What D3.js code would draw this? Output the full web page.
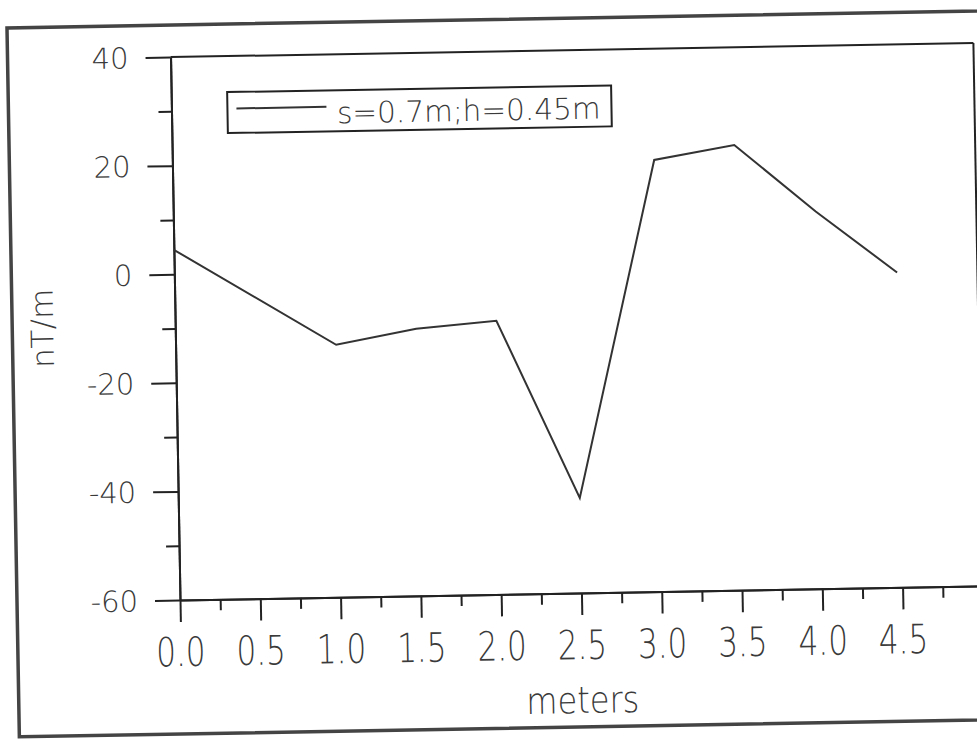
<!DOCTYPE html>
<html>
<head>
<meta charset="utf-8">
<script src="https://cdn.jsdelivr.net/npm/d3@7"></script>
<style>
  html, body { margin: 0; padding: 0; background: #fff; }
  svg { display: block; }
  text { font-family: "DejaVu Sans", sans-serif; font-weight: 200; fill: #3a3a3a; }
</style>
</head>
<body>
<svg id="chart" width="977" height="741"></svg>
<script>
// Profile of the magnetic gradient along the survey line
const distance = [0.0, 1.0, 1.5, 2.0, 2.5, 3.0, 3.5, 4.0, 4.5];
const gradient = [4.5, -13.5, -10.8, -9.6, -42.5, 19.5, 22.0, 9.5, -2.0];
const seriesName = "s=0.7m;h=0.45m";

const xMajorTicks = [0.0, 0.5, 1.0, 1.5, 2.0, 2.5, 3.0, 3.5, 4.0, 4.5];
const xMinorTicks = [0.25, 0.75, 1.25, 1.75, 2.25, 2.75, 3.25, 3.75, 4.25, 4.75];
const yMajorTicks = [-60, -40, -20, 0, 20, 40];
const yMinorTicks = [-50, -30, -10, 10, 30];

const xTitle = "meters";
const yTitle = "nT/m";

const W = 803, H = 543;
const svg = d3.select("#chart");

// the whole sheet sits slightly tilted on the page
const sheet = svg.append("g")
  .attr("transform", "translate(180,600) rotate(-1) translate(0," + (-H) + ")");

// outer frame
sheet.append("rect")
  .attr("x", -163).attr("y", H - 575)
  .attr("width", 1300).attr("height", 709)
  .attr("fill", "none").attr("stroke", "#444").attr("stroke-width", 3.5);

const x = d3.scaleLinear().domain([0, 5]).range([0, W]);
const y = d3.scaleLinear().domain([-60, 40]).range([H, 0]);

function styleAxis(g) {
  g.selectAll("path, line").attr("stroke", "#222").attr("stroke-width", 2);
  g.selectAll("text").remove();
}

// minor ticks
sheet.append("g").attr("transform", `translate(0,${H})`)
  .call(d3.axisBottom(x).tickValues(xMinorTicks).tickSize(11).tickSizeOuter(0))
  .call(styleAxis);
sheet.append("g")
  .call(d3.axisLeft(y).tickValues(yMinorTicks).tickSize(13).tickSizeOuter(0))
  .call(styleAxis);

// major ticks and axis lines
sheet.append("g").attr("transform", `translate(0,${H})`)
  .call(d3.axisBottom(x).tickValues(xMajorTicks).tickSize(22).tickSizeOuter(0))
  .call(styleAxis);
sheet.append("g")
  .call(d3.axisLeft(y).tickValues(yMajorTicks).tickSize(25).tickSizeOuter(0))
  .call(styleAxis);

// top and right sides of the plot box
sheet.append("line").attr("x1", 0).attr("x2", W).attr("y1", 0).attr("y2", 0)
  .attr("stroke", "#222").attr("stroke-width", 2);
sheet.append("line").attr("x1", W).attr("x2", W).attr("y1", 0).attr("y2", H)
  .attr("stroke", "#222").attr("stroke-width", 2);

// x tick labels (tall plotter lettering)
const fmtX = d3.format(".1f");
sheet.append("g").selectAll("text").data(xMajorTicks).join("text")
  .attr("transform", d => `translate(${x(d)},${H + 66}) scale(1,1.3)`)
  .attr("text-anchor", "middle")
  .attr("font-size", 31)
  .text(d => fmtX(d));

// y tick labels
sheet.append("g").selectAll("text").data(yMajorTicks).join("text")
  .attr("x", -42)
  .attr("y", d => y(d) + 10.6)
  .attr("text-anchor", "end")
  .attr("font-size", 29)
  .text(d => String(d));

// axis titles
sheet.append("text")
  .attr("transform", `translate(401,${H + 120}) scale(1,1.15)`)
  .attr("text-anchor", "middle")
  .attr("font-size", 32)
  .text(xTitle);
sheet.append("text")
  .attr("transform", `translate(-122,${H - 274}) rotate(-90)`)
  .attr("text-anchor", "middle")
  .attr("font-size", 31)
  .text(yTitle);

// data line
const pts = distance.map((d, i) => [d, gradient[i]]);
sheet.append("path")
  .datum(pts)
  .attr("fill", "none")
  .attr("stroke", "#333")
  .attr("stroke-width", 2)
  .attr("stroke-linejoin", "miter")
  .attr("d", d3.line().x(d => x(d[0])).y(d => y(d[1])));

// legend
const lg = sheet.append("g").attr("transform", "translate(56,36)");
lg.append("rect").attr("width", 384).attr("height", 41)
  .attr("fill", "#fff").attr("stroke", "#222").attr("stroke-width", 2);
lg.append("line").attr("x1", 9).attr("x2", 99).attr("y1", 16.5).attr("y2", 16.5)
  .attr("stroke", "#333").attr("stroke-width", 2);
lg.append("text").attr("x", 109.5).attr("y", 33)
  .attr("font-size", 29.5)
  .text(seriesName);
</script>
</body>
</html>
